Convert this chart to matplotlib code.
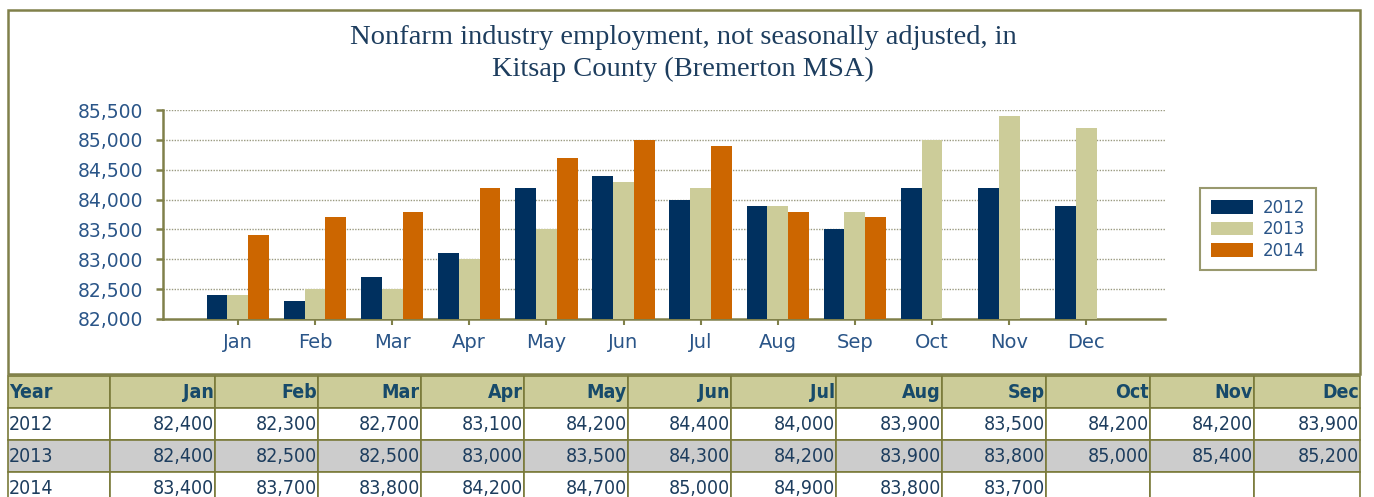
import matplotlib
matplotlib.use('agg')
import matplotlib.pyplot as plt
import numpy as np
from matplotlib.patches import Rectangle

months = ['Jan', 'Feb', 'Mar', 'Apr', 'May', 'Jun', 'Jul', 'Aug', 'Sep', 'Oct', 'Nov', 'Dec']
years = ['2012', '2013', '2014']
emp_2012 = [82400, 82300, 82700, 83100, 84200, 84400, 84000, 83900, 83500, 84200, 84200, 83900]
emp_2013 = [82400, 82500, 82500, 83000, 83500, 84300, 84200, 83900, 83800, 85000, 85400, 85200]
emp_2014 = [83400, 83700, 83800, 84200, 84700, 85000, 84900, 83800, 83700, None, None, None]
yticks = [82000, 82500, 83000, 83500, 84000, 84500, 85000, 85500]

colors = ['#00305f', '#cccc99', '#cc6600']
olive = '#80804a'
txt_blue = '#2a5588'

W, H = 1374, 497
fig = plt.figure(figsize=(W / 100, H / 100), dpi=100)

# outer chart frame
fig.patches.append(Rectangle((8 / W, 1 - 374 / H), 1352 / W, 364 / H, transform=fig.transFigure,
                             fill=False, edgecolor=olive, linewidth=1.8))

fig.text(683 / W, 1 - 38 / H, 'Nonfarm industry employment, not seasonally adjusted, in',
         ha='center', va='center', fontsize=20.5, family='Liberation Serif', color='#1d3d5e')
fig.text(683 / W, 1 - 69 / H, 'Kitsap County (Bremerton MSA)',
         ha='center', va='center', fontsize=20.5, family='Liberation Serif', color='#1d3d5e')

ax = fig.add_axes([163 / W, 1 - 319 / H, (1165 - 163) / W, (319 - 110) / H])
x = np.arange(len(months))
bw = 0.27
series = [emp_2012, emp_2013, emp_2014]
for i, (yr, vals) in enumerate(zip(years, series)):
    xs = [xi + (i - 1) * bw for xi, v in zip(x, vals) if v is not None]
    hs = [v - 82000 for v in vals if v is not None]
    ax.bar(xs, hs, bw, bottom=82000, color=colors[i], label=yr, zorder=3)

ax.set_ylim(82000, 85500)
ax.set_xlim(-0.97, 12.02)
ax.set_yticks(yticks)
ax.set_yticklabels(['{:,}'.format(v) for v in yticks])
ax.set_xticks(x)
ax.set_xticklabels(months)
for v in yticks[1:]:
    ax.axhline(v, color='#9a9a80', linestyle=(0, (1, 1)), linewidth=1.0, zorder=1)
for s in ['top', 'right']:
    ax.spines[s].set_visible(False)
for s in ['left', 'bottom']:
    ax.spines[s].set_color(olive)
    ax.spines[s].set_linewidth(1.8)
ax.tick_params(axis='y', colors=olive, labelcolor=txt_blue, labelsize=13.5, length=5, width=1.8, pad=9)
ax.tick_params(axis='x', colors=olive, labelcolor=txt_blue, labelsize=14, length=4, width=1.5, pad=6)

leg = fig.legend(loc='upper left', bbox_to_anchor=(1200 / W, 1 - 188 / H), frameon=True, fancybox=False,
                 fontsize=12, handlelength=2.5, handleheight=0.9, labelspacing=0.2, borderpad=0.65,
                 handletextpad=0.6, borderaxespad=0, labelcolor=txt_blue)
leg.get_frame().set_edgecolor(olive)
leg.get_frame().set_linewidth(1.5)

# data table under the chart
tax = fig.add_axes([8 / W, 1 - 504 / H, 1352 / W, 128 / H])
tax.axis('off')
col_edges = [8, 110, 215, 318, 421, 524, 628, 731, 836, 942, 1046, 1150, 1254, 1360]
col_w = [(b - a) / 1352 for a, b in zip(col_edges[:-1], col_edges[1:])]
cells = []
for yr, vals in zip(years, series):
    cells.append([yr] + ['' if v is None else '{:,}'.format(v) for v in vals])
tbl = tax.table(cellText=cells, colLabels=['Year'] + months, colWidths=col_w,
                bbox=[0, 0, 1, 1], cellLoc='right', colLoc='right')
tbl.auto_set_font_size(False)
for (r, c), cell in tbl.get_celld().items():
    cell.set_edgecolor('#7a7a3a')
    cell.set_linewidth(1.2)
    t = cell.get_text()
    t.set_fontsize(14)
    t.set_fontstretch('condensed')
    t.set_color('#1d3d5e')
    cell.PAD = 0.01
    if c == 0:
        cell._loc = 'left'
        t.set_ha('left')
    if r == 0:
        cell.set_facecolor('#cccc99')
        t.set_fontweight('bold')
        t.set_color('#174a6a')
    elif r == 2:
        cell.set_facecolor('#cccccc')
    else:
        cell.set_facecolor('white')

fig.savefig('out.png', dpi=100)
